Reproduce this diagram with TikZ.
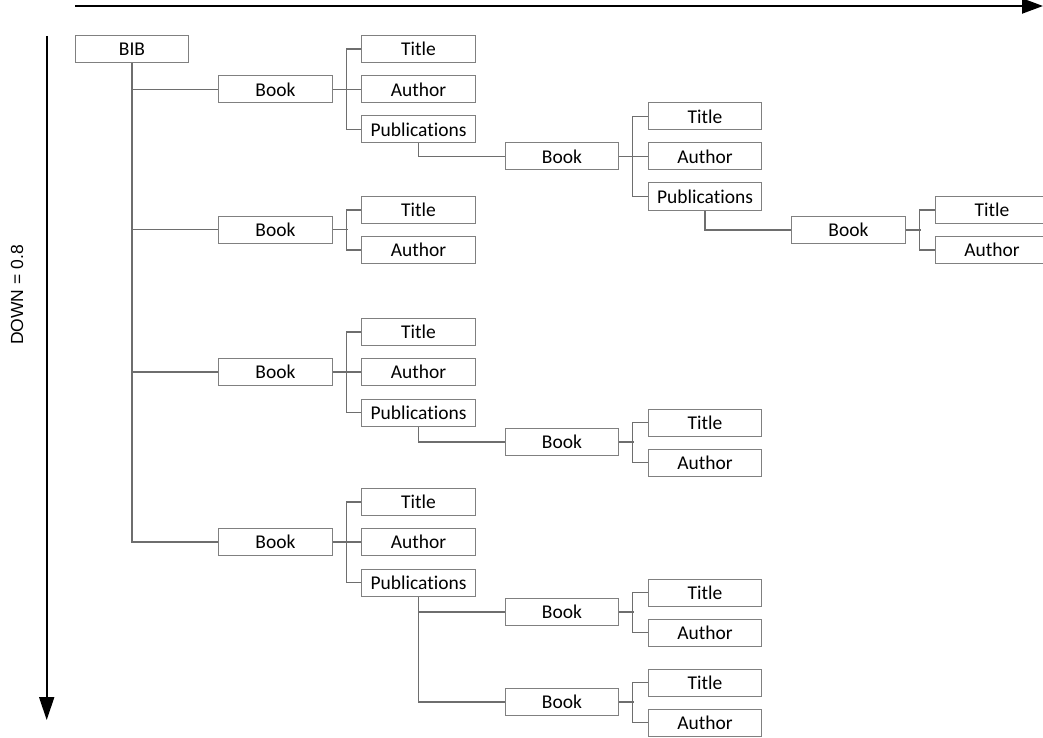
\documentclass[tikz,border=0pt]{standalone}
\usepackage{fontspec}
\setmainfont[Ligatures={NoCommon}]{Carlito}
\newfontfamily\labfont{Liberation Sans}
\usetikzlibrary{arrows.meta}
\definecolor{boxgray}{RGB}{128,128,128}
\definecolor{linegray}{RGB}{110,110,110}
\tikzset{
  bx/.style={draw=boxgray, line width=1pt, minimum width=113.5pt, minimum height=27pt, inner sep=0pt, font=\fontsize{19.5}{22}\selectfont, text=black},
  conn/.style={draw=linegray, line width=1.1pt},
  axis/.style={draw=black, line width=2pt}
}
\begin{document}
\begin{tikzpicture}[x=1pt,y=-1pt]
\useasboundingbox (0,0) rectangle (1043,738);
% axes
\coordinate (hx0) at (75,6);
\coordinate (hx1) at (1043,6);
\coordinate (vy0) at (46.7,36);
\coordinate (vy1) at (46.7,720);
\draw[axis,-{Triangle[length=21pt,width=15pt]}] (hx0) -- (hx1);
\draw[axis,-{Triangle[length=23pt,width=15pt]}] (vy0) -- (vy1);
\node[rotate=90, font=\labfont\fontsize{17.5}{20}\selectfont, text=black] (lab) at (17,295) {DOWN = 0.8};
% nodes
\node[bx] (bib) at (132,49) {BIB};
% group 1
\node[bx] (b1) at (275.5,89.5) {Book};
\node[bx] (t1) at (418.5,49) {Title};
\node[bx] (a1) at (418.5,89.5) {Author};
\node[bx] (p1) at (418.5,129.5) {Publications};
\node[bx] (b11) at (562,156.5) {Book};
\node[bx] (t11) at (705,116.5) {Title};
\node[bx] (a11) at (705,156.5) {Author};
\node[bx] (p11) at (705,196.5) {Publications};
\node[bx] (b111) at (848.5,230) {Book};
\node[bx] (t111) at (992,210) {Title};
\node[bx] (a111) at (992,250) {Author};
% group 2
\node[bx] (b2) at (275.5,229.5) {Book};
\node[bx] (t2) at (418.5,210) {Title};
\node[bx] (a2) at (418.5,250) {Author};
% group 3
\node[bx] (b3) at (275.5,372) {Book};
\node[bx] (t3) at (418.5,332) {Title};
\node[bx] (a3) at (418.5,372) {Author};
\node[bx] (p3) at (418.5,412.5) {Publications};
\node[bx] (b31) at (562,442) {Book};
\node[bx] (t31) at (705,422.5) {Title};
\node[bx] (a31) at (705,462.5) {Author};
% group 4
\node[bx] (b4) at (275.5,542) {Book};
\node[bx] (t4) at (418.5,502) {Title};
\node[bx] (a4) at (418.5,542) {Author};
\node[bx] (p4) at (418.5,582.5) {Publications};
\node[bx] (b41) at (562,612) {Book};
\node[bx] (t41) at (705,592.5) {Title};
\node[bx] (a41) at (705,632.5) {Author};
\node[bx] (b42) at (562,702) {Book};
\node[bx] (t42) at (705,682.5) {Title};
\node[bx] (a42) at (705,722.5) {Author};
% connectors: BIB to books
\draw[conn] (bib.south) |- (b4.west);
\foreach \b in {b1,b2,b3}{
  \draw[conn] (bib.south |- \b.west) -- (\b.west);
}
% book -> children
\foreach \b/\t/\l in {b1/t1/p1, b11/t11/p11, b111/t111/a111, b2/t2/a2, b3/t3/p3, b31/t31/a31, b4/t4/p4, b41/t41/a41, b42/t42/a42}{
  \draw[conn] (\b.east) -- ++(15,0);
  \draw[conn] (\t.west) -- ++(-15,0) |- (\l.west);
}
\foreach \a in {a1, a11, a3, a4}{
  \draw[conn] (\a.west) -- ++(-15,0);
}
% publications -> books
\draw[conn] (p1.south) |- (b11.west);
\draw[conn] (p11.south) |- (b111.west);
\draw[conn] (p3.south) |- (b31.west);
\draw[conn] (p4.south) |- (b42.west);
\draw[conn] (p4.south |- b41.west) -- (b41.west);
\end{tikzpicture}
\end{document}
